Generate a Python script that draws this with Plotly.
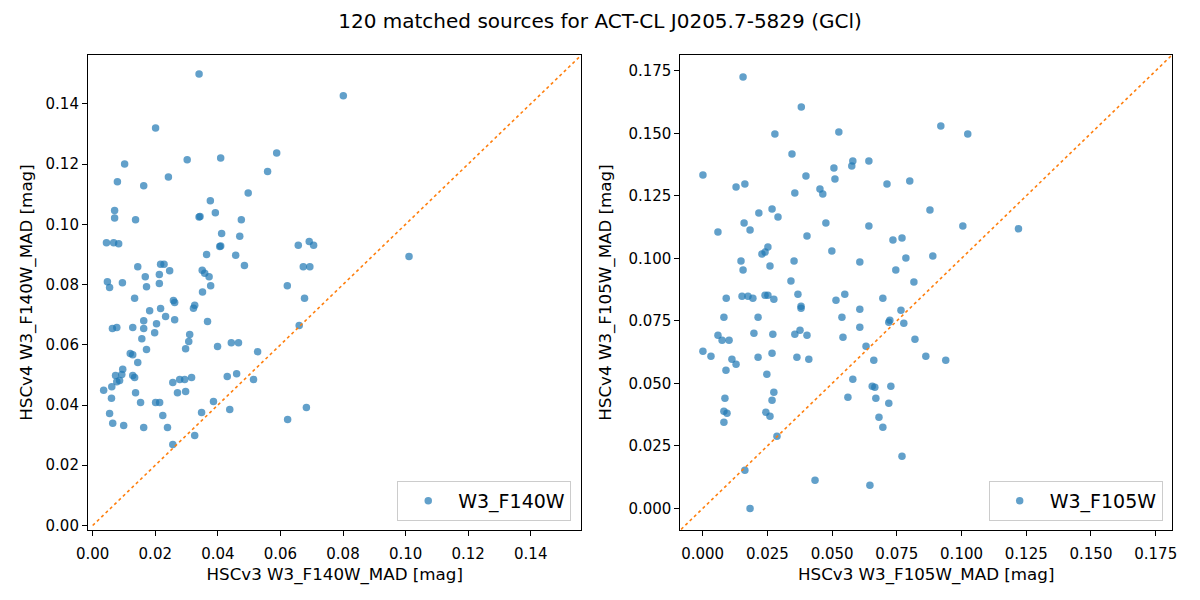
import plotly.graph_objects as go

# HSCv3 vs HSCv4 MAD values for W3_F140W (left panel)
f140w_v3 = [
    0.0340, 0.0201, 0.0102, 0.0302, 0.0409, 0.0588, 0.0559, 0.0079, 0.0163, 0.0242,
    0.0497, 0.0376, 0.0392, 0.0070, 0.0070, 0.0137, 0.0340, 0.0343, 0.0475, 0.0412,
    0.0470, 0.0044, 0.0067, 0.0083, 0.0406, 0.0409, 0.0657, 0.0692, 0.0706, 0.0364,
    0.0457, 0.0144, 0.0217, 0.0228, 0.0485, 0.0673, 0.0694, 0.0246, 0.0350, 0.0358,
    0.0372, 0.0168, 0.0213, 0.0047, 0.0054, 0.0095, 0.0172, 0.0213, 0.0377, 0.0622,
    0.0351,
    0.0134, 0.0677, 0.0258, 0.0262, 0.0326, 0.0322, 0.0182, 0.0217, 0.0233, 0.0163,
    0.0262, 0.0367, 0.0204, 0.0063, 0.0077, 0.0128, 0.0163, 0.0198, 0.0660, 0.0310,
    0.0157, 0.0307, 0.0443, 0.0466, 0.0297, 0.0172,
    0.0399, 0.0527, 0.0120, 0.0128, 0.0144, 0.0096, 0.0073, 0.0093, 0.0128, 0.0134,
    0.0077, 0.0086, 0.0061, 0.0035, 0.0430, 0.0460, 0.0514, 0.0316, 0.0278, 0.0294,
    0.0256, 0.0271, 0.0297, 0.0137, 0.0060, 0.0153,
    0.0201, 0.0214, 0.0386, 0.0348, 0.0438, 0.0224, 0.0054, 0.0064, 0.0099, 0.0163,
    0.0239, 0.0326, 0.0256, 0.0623, 0.0683,
    0.0801, 0.1011,
]
f140w_v4 = [
    0.1499, 0.1320, 0.1200, 0.1214, 0.1220, 0.1237, 0.1175, 0.1141, 0.1128, 0.1157,
    0.1104, 0.1078, 0.1038, 0.1046, 0.1021, 0.1015, 0.1024, 0.1026, 0.1015, 0.0969,
    0.0960, 0.0939, 0.0939, 0.0935, 0.0926, 0.0928, 0.0930, 0.0943, 0.0930, 0.0900,
    0.0897, 0.0859, 0.0867, 0.0867, 0.0863, 0.0859, 0.0859, 0.0846, 0.0847, 0.0837,
    0.0826, 0.0826, 0.0833, 0.0809, 0.0790, 0.0806, 0.0793, 0.0803, 0.0796, 0.0796,
    0.0775,
    0.0754, 0.0754, 0.0747, 0.0740, 0.0731, 0.0721, 0.0713, 0.0720, 0.0694, 0.0680,
    0.0683, 0.0677, 0.0670, 0.0654, 0.0657, 0.0657, 0.0654, 0.0640, 0.0664, 0.0634,
    0.0620, 0.0611, 0.0607, 0.0607, 0.0587, 0.0584,
    0.0594, 0.0577, 0.0571, 0.0567, 0.0541, 0.0519, 0.0498, 0.0501, 0.0498, 0.0491,
    0.0477, 0.0481, 0.0461, 0.0449, 0.0495, 0.0504, 0.0485, 0.0491, 0.0485, 0.0485,
    0.0475, 0.0441, 0.0445, 0.0441, 0.0422, 0.0408,
    0.0408, 0.0408, 0.0412, 0.0375, 0.0385, 0.0365, 0.0372, 0.0339, 0.0332, 0.0325,
    0.0325, 0.0299, 0.0269, 0.0352, 0.0392,
    0.1427, 0.0893,
]

# HSCv3 vs HSCv4 MAD values for W3_F105W (right panel)
f105w_v3 = [
    0.0156, 0.0381, 0.0920, 0.1024, 0.0279, 0.0526, 0.0345, 0.0001, 0.0399, 0.0507,
    0.0511, 0.0580, 0.0576, 0.0642, 0.0129, 0.0163, 0.0356, 0.0453, 0.0464, 0.0712,
    0.0800, 0.0878, 0.1005, 0.0217, 0.0268, 0.0291, 0.0160, 0.0183, 0.0059, 0.0476,
    0.0642, 0.0403, 0.0735, 0.0770, 0.0252, 0.0241, 0.0229, 0.0499, 0.0148, 0.0156,
    0.0260, 0.0353, 0.0607, 0.0785, 0.0889, 0.0746, 0.0341, 0.0816,
    0.0091, 0.0152, 0.0175, 0.0194, 0.0241, 0.0252, 0.0275, 0.0368, 0.0515, 0.0549,
    0.0696, 0.0380, 0.0380, 0.0082, 0.0214, 0.0538, 0.0607, 0.0766, 0.0723, 0.0719,
    0.0777, 0.0607, 0.0059, 0.0075, 0.0102, 0.0198,
    0.0271, 0.0356, 0.0376, 0.0403, 0.0542, 0.0820, 0.0631, 0.0001, 0.0032, 0.0113,
    0.0129, 0.0214, 0.0268, 0.0364, 0.0410, 0.0661, 0.0862, 0.0939, 0.0090, 0.0248,
    0.0580, 0.0655, 0.0665, 0.0727, 0.0275, 0.0268,
    0.0086, 0.0561, 0.0669, 0.0719, 0.0082, 0.0094, 0.0244, 0.0260, 0.0082, 0.0681,
    0.0696, 0.0287, 0.0770, 0.0163, 0.0434, 0.0646, 0.0183,
    0.1220,
]
f105w_v4 = [
    0.1725, 0.1605, 0.1529, 0.1497, 0.1497, 0.1505, 0.1417, 0.1333, 0.1329, 0.1361,
    0.1317, 0.1389, 0.1369, 0.1389, 0.1285, 0.1297, 0.1261, 0.1277, 0.1257, 0.1297,
    0.1309, 0.1193, 0.1129, 0.1181, 0.1197, 0.1165, 0.1141, 0.1113, 0.1105, 0.1141,
    0.1129, 0.1089, 0.1073, 0.1081, 0.1045, 0.1025, 0.1017, 0.1029, 0.0989, 0.0953,
    0.0969, 0.0989, 0.0985, 0.1001, 0.1009, 0.0953, 0.0909, 0.0905,
    0.0841, 0.0849, 0.0849, 0.0841, 0.0853, 0.0853, 0.0837, 0.0857, 0.0833, 0.0857,
    0.0841, 0.0809, 0.0801, 0.0765, 0.0765, 0.0765, 0.0797, 0.0793, 0.0753, 0.0745,
    0.0741, 0.0725, 0.0693, 0.0673, 0.0673, 0.0701,
    0.0697, 0.0697, 0.0713, 0.0693, 0.0685, 0.0677, 0.0649, 0.0629, 0.0609, 0.0597,
    0.0577, 0.0605, 0.0621, 0.0605, 0.0597, 0.0593, 0.0609, 0.0593, 0.0553, 0.0537,
    0.0517, 0.0489, 0.0485, 0.0489, 0.0465, 0.0433,
    0.0441, 0.0445, 0.0441, 0.0421, 0.0389, 0.0381, 0.0385, 0.0369, 0.0345, 0.0365,
    0.0325, 0.0289, 0.0209, 0.0153, 0.0113, 0.0093, 0.0000,
    0.1118,
]

# axis limits (same on x and y) and 1:1 line ends
lims_f140w = [-0.0015, 0.1562]
lims_f105w = [-0.0086, 0.1813]
diag_f140w = [0.0, 0.2]
diag_f105w = [-0.01, 0.2]

ticks_f140w = [0.00, 0.02, 0.04, 0.06, 0.08, 0.10, 0.12, 0.14]
ticks_f105w = [0.000, 0.025, 0.050, 0.075, 0.100, 0.125, 0.150, 0.175]

FONT = "DejaVu Sans"
BLUE = "#1f77b4"
ORANGE = "#ff7f0e"

fig = go.Figure()

# left panel
fig.add_trace(
    go.Scatter(
        x=f140w_v3, y=f140w_v4, mode="markers", name="W3_F140W",
        marker=dict(color=BLUE, size=7.5, opacity=0.7, line=dict(width=0)),
        xaxis="x", yaxis="y", legend="legend",
    )
)
fig.add_trace(
    go.Scatter(
        x=diag_f140w, y=diag_f140w, mode="lines", showlegend=False,
        line=dict(color=ORANGE, dash="dot", width=1.6),
        xaxis="x", yaxis="y", hoverinfo="skip",
    )
)

# right panel
fig.add_trace(
    go.Scatter(
        x=f105w_v3, y=f105w_v4, mode="markers", name="W3_F105W",
        marker=dict(color=BLUE, size=7.5, opacity=0.7, line=dict(width=0)),
        xaxis="x2", yaxis="y2", legend="legend2",
    )
)
fig.add_trace(
    go.Scatter(
        x=diag_f105w, y=diag_f105w, mode="lines", showlegend=False,
        line=dict(color=ORANGE, dash="dot", width=1.6),
        xaxis="x2", yaxis="y2", hoverinfo="skip",
    )
)

axis_style = dict(
    showline=True, linecolor="black", linewidth=1.1, mirror=True,
    ticks="outside", ticklen=5, tickwidth=1.1, tickcolor="black",
    showgrid=False, zeroline=False, automargin=False,
    tickfont=dict(family=FONT, size=15, color="black"),
)
title_font = dict(family=FONT, size=16.7, color="black")
legend_style = dict(
    y=0.019, xanchor="right", yanchor="bottom", itemwidth=50,
    bgcolor="white", bordercolor="#cccccc", borderwidth=1,
    font=dict(family=FONT, size=19, color="black"),
)

fig.update_layout(
    xaxis=dict(
        domain=[0.0, 0.4552], range=lims_f140w, tickvals=ticks_f140w,
        tickformat=".2f", anchor="y", ticklabelstandoff=5,
        title=dict(text="HSCv3 W3_F140W_MAD [mag]", font=title_font, standoff=6),
        **axis_style,
    ),
    yaxis=dict(
        domain=[0.0, 1.0], range=lims_f140w, tickvals=ticks_f140w,
        tickformat=".2f", anchor="x",
        title=dict(text="HSCv4 W3_F140W_MAD [mag]", font=title_font, standoff=8),
        **axis_style,
    ),
    xaxis2=dict(
        domain=[0.5465, 1.0], range=lims_f105w, tickvals=ticks_f105w,
        tickformat=".3f", anchor="y2", ticklabelstandoff=5,
        title=dict(text="HSCv3 W3_F105W_MAD [mag]", font=title_font, standoff=6),
        **axis_style,
    ),
    yaxis2=dict(
        domain=[0.0, 1.0], range=lims_f105w, tickvals=ticks_f105w,
        tickformat=".3f", anchor="x2",
        title=dict(text="HSCv4 W3_F105W_MAD [mag]", font=title_font, standoff=12),
        **axis_style,
    ),
    legend=dict(x=0.4458, **legend_style),
    legend2=dict(x=0.9914, **legend_style),
    title=dict(
        text="120 matched sources for ACT-CL J0205.7-5829 (GCl)",
        x=0.5, xanchor="center", xref="container", y=0.9777, yanchor="middle",
        font=dict(family=FONT, size=20, color="black"),
    ),
    # page body has an 8px margin, so the figure is a bit smaller than the window
    width=1184,
    height=584,
    margin=dict(l=80.3, r=19.7, t=47, b=62, autoexpand=False),
    paper_bgcolor="white",
    plot_bgcolor="white",
    showlegend=True,
)

fig.write_html("out.html")
